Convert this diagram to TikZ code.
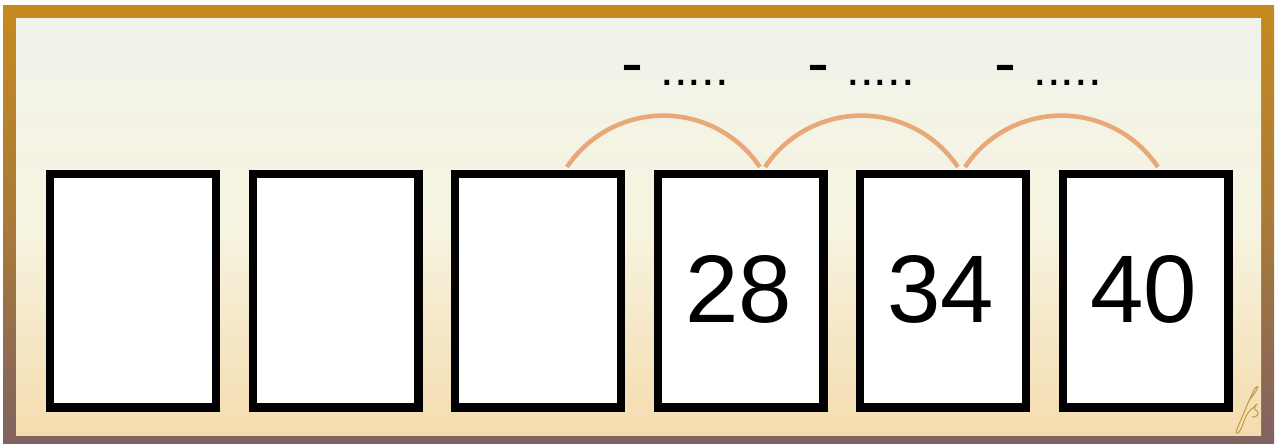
\documentclass[tikz,border=0pt]{standalone}
\usepackage{fontspec}
\setmainfont{Liberation Sans}
\definecolor{frametop}{HTML}{C58A1E}
\definecolor{framemid}{HTML}{A97A38}
\definecolor{framebot}{HTML}{806262}
\definecolor{bgtop}{HTML}{F1F2EA}
\definecolor{bgmid}{HTML}{F6F4E0}
\definecolor{bgbot}{HTML}{F5DCAE}
\definecolor{arccol}{HTML}{E8A878}
\definecolor{sigcol}{HTML}{C0903E}
\begin{document}
\begin{tikzpicture}[x=1pt,y=-1pt,
  cardbox/.style={draw=black,fill=white,line width=8.3pt,minimum width=165.7pt,minimum height=233.2pt,inner sep=0pt},
  numtext/.style={font=\fontsize{96}{96}\selectfont,inner sep=0pt,anchor=base},
  hoplabel/.style={inner sep=0pt,anchor=base west},
  hoparc/.style={draw=arccol,line width=4.5pt},
  sig/.style={draw=sigcol,line width=0.9pt,line cap=round}]
\useasboundingbox (0,0) rectangle (1275,444);
% frame and background
\fill[top color=frametop,bottom color=framebot,middle color=framemid] (3,6) rectangle (1274,444);
\fill[top color=bgtop,bottom color=bgbot,middle color=bgmid] (16,19) rectangle (1261,435);
% cards
\node[cardbox] (c1) at (133,290.75) {};
\node[cardbox] (c2) at (335.5,290.75) {};
\node[cardbox] (c3) at (538,290.75) {};
\node[cardbox] (c4) at (740.5,290.75) {};
\node[cardbox] (c5) at (943,290.75) {};
\node[cardbox] (c6) at (1145.5,290.75) {};
% numbers
\node[numtext] (n4) at (738.5,322) {28};
\node[numtext] (n5) at (941,322) {34};
\node[numtext] (n6) at (1143.5,322) {40};
% arcs
\coordinate (a1) at (567,167);
\coordinate (a2) at (760,167);
\coordinate (a3) at (765,167);
\coordinate (a4) at (960,167);
\coordinate (a5) at (965,167);
\draw[hoparc] (a1) arc[start angle=146.1,end angle=33.9,radius=116.2pt];
\draw[hoparc] (a3) arc[start angle=146.1,end angle=33.9,radius=116.2pt];
\draw[hoparc] (a5) arc[start angle=146.1,end angle=33.9,radius=116.2pt];
% labels
\node[hoplabel] (l1) at (621,85.5) {{\fontsize{66}{66}\selectfont -}\hspace{17.5pt}{\fontsize{49}{49}\selectfont .....}};
\node[hoplabel] (l2) at (807,85.5) {{\fontsize{66}{66}\selectfont -}\hspace{17.5pt}{\fontsize{49}{49}\selectfont .....}};
\node[hoplabel] (l3) at (994,85.5) {{\fontsize{66}{66}\selectfont -}\hspace{17.5pt}{\fontsize{49}{49}\selectfont .....}};
% signature
\draw[sig] (1250,399) .. controls (1260,388) and (1259,382) .. (1254,390)
  .. controls (1248,402) and (1241,420) .. (1237,429)
  .. controls (1234,437) and (1240,434) .. (1243,424)
  .. controls (1246,414) and (1250,409) .. (1256,406);
\draw[sig] (1257,404) .. controls (1253,406) and (1254,410) .. (1257,411)
  .. controls (1260,413) and (1257,418) .. (1252,417);
\end{tikzpicture}
\end{document}
